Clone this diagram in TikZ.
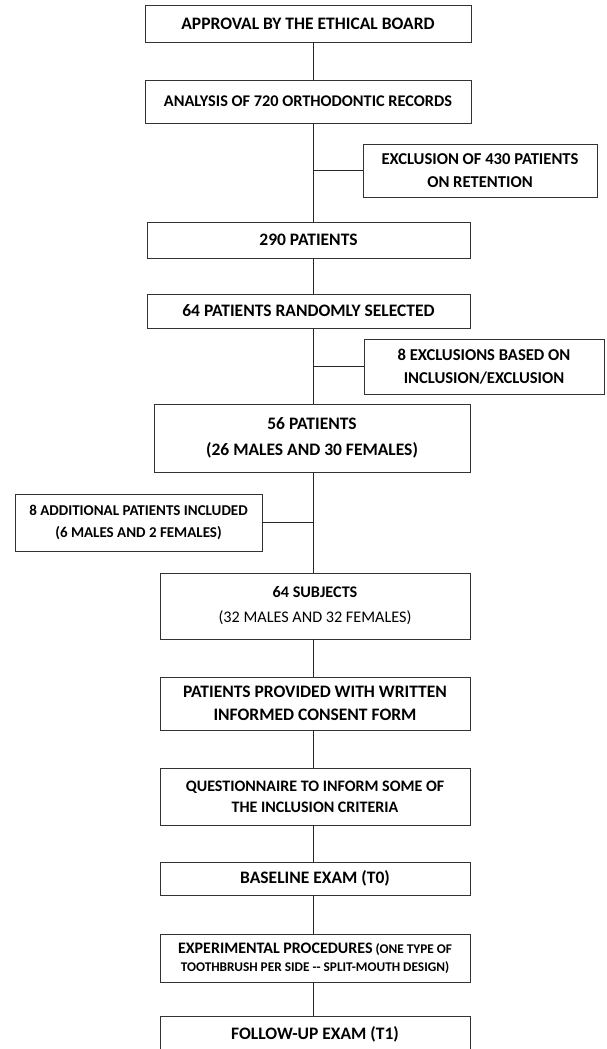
\documentclass[tikz,border=0pt]{standalone}
\usepackage{fontspec}
\setmainfont{Carlito}
\usetikzlibrary{calc}

\begin{document}
\begin{tikzpicture}[x=1pt, y=-1pt,
	box/.style={draw=black!80, line width=.8pt, inner sep=0pt, align=center, font=\bfseries\bigtxt},
	side/.style={box, font=\bfseries\fontsize{16.6}{23}\selectfont},
	link/.style={draw=black!85, line width=.8pt}]
	\newcommand{\bigtxt}{\fontsize{17.5}{23}\selectfont}
	\useasboundingbox (0,0) rectangle (606,1049);
	\coordinate (spine) at (313,0);
	% main column
	\draw (308,23.5) node[box, minimum width=326pt, minimum height=37pt] (approval) {APPROVAL BY THE ETHICAL BOARD};
	\draw (308,101.5) node[box, minimum width=326pt, minimum height=43pt, font=\bfseries\fontsize{16.3}{23}\selectfont] (records) {ANALYSIS OF 720 ORTHODONTIC RECORDS};
	\draw (308.5,240) node[box, minimum width=323pt, minimum height=36pt] (p290) {290 PATIENTS};
	\draw (308.5,311) node[box, minimum width=323pt, minimum height=34pt] (random) {64 PATIENTS RANDOMLY SELECTED};
	\draw (312,438) node[box, minimum width=316pt, minimum height=68pt, font=\bfseries\fontsize{17.5}{26}\selectfont] (p56) {56 PATIENTS\\(26 MALES AND 30 FEMALES)};
	\draw (315,606) node[box, minimum width=310pt, minimum height=66pt, font=\fontsize{16.2}{25}\selectfont] (subjects) {\textbf{64 SUBJECTS}\\(32 MALES AND 32 FEMALES)};
	\draw (315,703.5) node[box, minimum width=310pt, minimum height=53pt] (consent) {PATIENTS PROVIDED WITH WRITTEN\\INFORMED CONSENT FORM};
	\draw (315,796.5) node[box, minimum width=310pt, minimum height=57pt, font=\bfseries\fontsize{16}{21}\selectfont] (quest) {QUESTIONNAIRE TO INFORM SOME OF\\THE INCLUSION CRITERIA};
	\draw (315,878.5) node[box, minimum width=310pt, minimum height=33pt] (baseline) {BASELINE EXAM (T0)};
	\draw (315,958) node[box, minimum width=310pt, minimum height=48pt, font=\bfseries\fontsize{13.3}{18}\selectfont] (proc) {{\fontsize{16}{18}\selectfont EXPERIMENTAL PROCEDURES} (ONE TYPE OF\\TOOTHBRUSH PER SIDE -{}- SPLIT-MOUTH DESIGN)};
	\draw (315,1034) node[box, minimum width=310pt, minimum height=36pt] (followup) {FOLLOW-UP EXAM (T1)};
	% side boxes
	\draw (480,170.5) node[side, minimum width=234pt, minimum height=53pt] (excl) {EXCLUSION OF 430 PATIENTS\\ON RETENTION};
	\draw (484,366.5) node[side, minimum width=240pt, minimum height=55pt] (criteria) {8 EXCLUSIONS BASED ON\\INCLUSION/EXCLUSION};
	\draw (138.5,522.5) node[box, minimum width=247pt, minimum height=57pt, font=\bfseries\fontsize{15}{22}\selectfont] (added) {8 ADDITIONAL PATIENTS INCLUDED\\(6 MALES AND 2 FEMALES)};
	% connectors
	\draw[link] (spine |- approval.south) -- (spine |- records.north);
	\draw[link] (spine |- records.south) -- (spine |- p290.north);
	\draw[link] (spine |- excl.west) -- (excl.west);
	\draw[link] (spine |- p290.south) -- (spine |- random.north);
	\draw[link] (spine |- random.south) -- (spine |- p56.north);
	\draw[link] (spine |- criteria.west) -- (criteria.west);
	\draw[link] (spine |- p56.south) -- (spine |- subjects.north);
	\draw[link] (added.east) -- (spine |- added.east);
	\draw[link] (spine |- subjects.south) -- (spine |- consent.north);
	\draw[link] (spine |- consent.south) -- (spine |- quest.north);
	\draw[link] (spine |- quest.south) -- (spine |- baseline.north);
	\draw[link] (spine |- baseline.south) -- (spine |- proc.north);
	\draw[link] (spine |- proc.south) -- (spine |- followup.north);
\end{tikzpicture}
\end{document}
